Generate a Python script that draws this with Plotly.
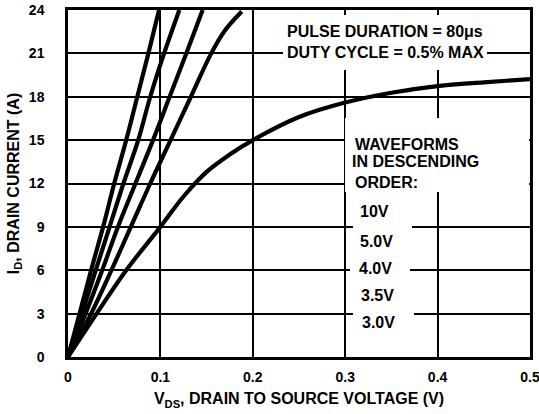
import plotly.graph_objects as go

# ---------------- data ----------------
x_10v = [0, 0.025, 0.038, 0.050, 0.063, 0.075, 0.087, 0.0985]
y_10v = [0, 6, 9, 12, 15, 18, 21, 24]

x_5v = [0, 0.030, 0.045, 0.060, 0.076, 0.089, 0.104, 0.1205]
y_5v = [0, 6, 9, 12, 15, 18, 21, 24]

x_4v = [0, 0.019, 0.037, 0.054, 0.073, 0.092, 0.110, 0.128, 0.1457]
y_4v = [0, 3, 6, 9, 12, 15, 18, 21, 24]

x_35v = [0, 0.025, 0.047, 0.068, 0.089, 0.111, 0.133, 0.155, 0.170, 0.188]
y_35v = [0, 3, 6, 9, 12, 15, 18, 21, 22.6, 23.9]

x_3v = [0, 0.031, 0.063, 0.100, 0.125, 0.150, 0.175, 0.200, 0.250, 0.300, 0.350, 0.400, 0.450, 0.500]
y_3v = [0, 3, 6, 9, 11.1, 12.8, 14.0, 15, 16.6, 17.6, 18.28, 18.74, 19.0, 19.22]

x_ticks = [0, 0.1, 0.2, 0.3, 0.4, 0.5]
x_tick_labels = ["0", "0.1", "0.2", "0.3", "0.4", "0.5"]
y_ticks = [0, 3, 6, 9, 12, 15, 18, 21, 24]
y_tick_labels = ["0", "3", "6", "9", "12", "15", "18", "21", "24"]

series = [
    ("10V", x_10v, y_10v),
    ("5.0V", x_5v, y_5v),
    ("4.0V", x_4v, y_4v),
    ("3.5V", x_35v, y_35v),
    ("3.0V", x_3v, y_3v),
]

FONT = "Liberation Sans, Arial, Helvetica, sans-serif"

fig = go.Figure()
for name, xs, ys in series:
    fig.add_trace(go.Scatter(
        x=xs, y=ys, mode="lines", name=name,
        line=dict(color="black", width=4.2, shape="spline", smoothing=1.0),
        showlegend=False, hoverinfo="skip",
    ))

# white masks over the gridlines (drawn between grid and traces)
masks = [
    (0.2327, 0.4535, 19.85, 23.65),
    (0.2998, 0.4990, 11.41, 16.53),
    (0.3084, 0.3723, 8.7, 9.3),
    (0.3052, 0.3701, 5.7, 6.3),
    (0.3084, 0.3745, 2.7, 3.3),
]
shapes = []
for x0, x1, y0, y1 in masks:
    shapes.append(dict(type="rect", xref="x", yref="y", x0=x0, x1=x1, y0=y0, y1=y1,
                       fillcolor="white", line=dict(width=0), layer="between"))

notes = [
    ("PULSE DURATION = 80\u03bcs", 0.2348, 22.48),
    ("DUTY CYCLE = 0.5% MAX", 0.2348, 21.06),
    ("WAVEFORMS", 0.3084, 14.73),
    ("IN DESCENDING", 0.3052, 13.49),
    ("ORDER:", 0.3084, 12.10),
    ("10V", 0.3139, 10.03),
    ("5.0V", 0.3139, 8.02),
    ("4.0V", 0.3128, 6.09),
    ("3.5V", 0.3149, 4.22),
    ("3.0V", 0.3160, 2.39),
]
annotations = []
for text, ax, ay in notes:
    annotations.append(dict(text=text, x=ax, y=ay, xref="x", yref="y",
                            xanchor="left", yanchor="middle", showarrow=False,
                            font=dict(family=FONT, size=16, color="black", weight="bold")))

fig.update_layout(
    width=539, height=414,
    margin=dict(l=68, r=9, t=10, b=57, autoexpand=False),
    paper_bgcolor="white", plot_bgcolor="white",
    shapes=shapes, annotations=annotations,
    font=dict(family=FONT, color="black"),
)
fig.update_xaxes(
    range=[0, 0.5], tickvals=x_ticks, ticktext=x_tick_labels,
    showgrid=True, gridcolor="black", gridwidth=2,
    showline=True, linecolor="black", linewidth=2.5, mirror=True,
    zeroline=False, ticks="", ticklabelstandoff=5, automargin=False,
    ticklabeloverflow="allow",
    tickfont=dict(family=FONT, size=14, color="black", weight="bold"),
    title=dict(text="V<sub>DS</sub>, DRAIN TO SOURCE VOLTAGE (V)", standoff=10,
               font=dict(family=FONT, size=16, color="black", weight="bold")),
)
fig.update_yaxes(
    range=[0, 24], tickvals=y_ticks, ticktext=y_tick_labels,
    showgrid=True, gridcolor="black", gridwidth=2,
    showline=True, linecolor="black", linewidth=2.5, mirror=True,
    zeroline=False, ticks="", ticklabelstandoff=18, automargin=False,
    ticklabeloverflow="allow",
    tickfont=dict(family=FONT, size=14, color="black", weight="bold"),
    title=dict(text="I<sub>D</sub>, DRAIN CURRENT (A)", standoff=6,
               font=dict(family=FONT, size=16, color="black", weight="bold")),
)

fig.write_html(
    "out.html",
    config={"displayModeBar": False},
    post_script="document.body.style.margin='0px';document.body.style.overflow='hidden';",
)
